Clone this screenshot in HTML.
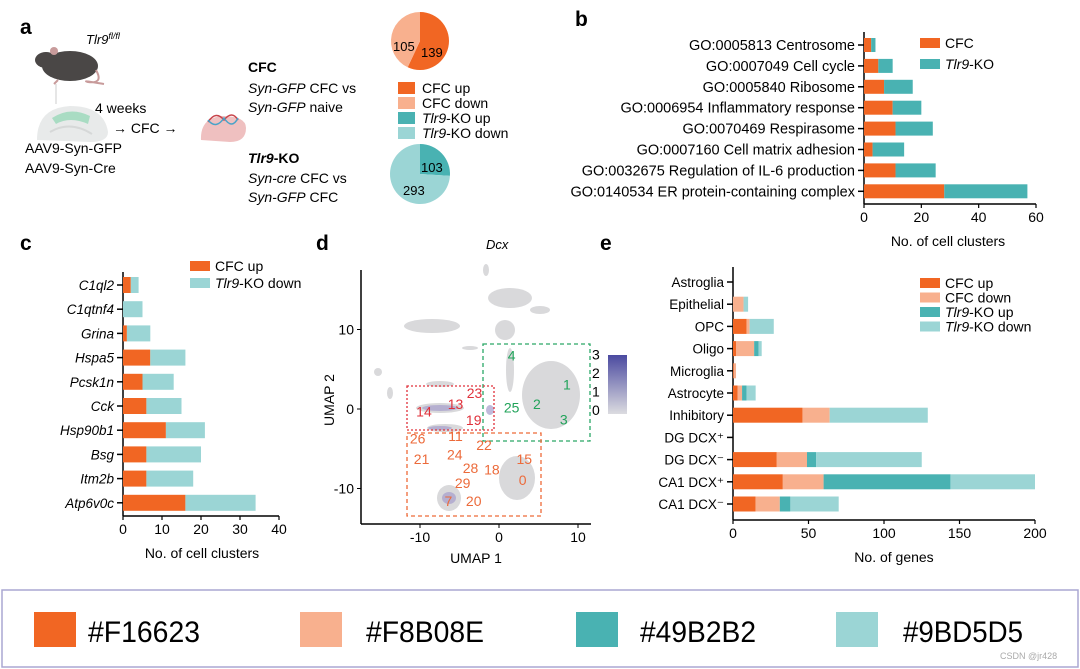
<!DOCTYPE html>
<html><head><meta charset="utf-8">
<style>
html,body{margin:0;padding:0;background:#fff;}
svg{display:block;font-family:"Liberation Sans",Arial,sans-serif;}
</style></head>
<body>
<svg id="fig" width="1080" height="669" viewBox="0 0 1080 669" xmlns="http://www.w3.org/2000/svg">
<g>
<text x="20" y="34" font-size="21" font-weight="bold">a</text>
<text x="86" y="44" font-size="13" font-style="italic">Tlr9<tspan font-size="9" dy="-5">fl/fl</tspan></text>
<g>
<ellipse cx="70" cy="66" rx="28" ry="15" fill="#4a4746"/>
<ellipse cx="46" cy="60" rx="11" ry="8" fill="#4a4746"/>
<ellipse cx="54" cy="51" rx="4" ry="4" fill="#c89b9b"/>
<path d="M96 70 Q104 84 88 82 Q80 80 104 84" stroke="#c89b9b" stroke-width="2" fill="none"/>
<line x1="58" y1="80" x2="54" y2="84" stroke="#c89b9b" stroke-width="2"/>
<line x1="56" y1="84" x2="56" y2="104" stroke="#ccc" stroke-width="1"/>
</g>
<g>
<path d="M37 140 Q37 108 70 106 Q104 106 108 132 Q108 142 90 142 Z" fill="#e8eaea"/>
<path d="M52 118 Q70 106 90 116 L88 124 Q70 116 56 124 Z" fill="#a9dcc3"/>
<path d="M50 132 Q70 120 92 134" stroke="#d6d8d8" stroke-width="2" fill="none"/>
</g>
<text x="95" y="113" font-size="14">4 weeks</text>
<text x="113" y="133" font-size="14">→ CFC →</text>
<g>
<path d="M201 140 Q200 118 222 116 Q246 116 246 128 Q246 142 230 142 Z" fill="#efc0c0"/>
<path d="M208 122 Q216 110 224 120 Q232 110 238 120" stroke="#c7434a" stroke-width="1.5" fill="none"/>
<path d="M208 120 Q216 130 224 118 Q232 130 238 118" stroke="#49a3c8" stroke-width="1.5" fill="none"/>
</g>
<text x="25" y="153" font-size="14">AAV9-Syn-GFP</text>
<text x="25" y="173" font-size="14">AAV9-Syn-Cre</text>
<text x="248" y="72" font-size="14" font-weight="bold">CFC</text>
<text x="248" y="93" font-size="14"><tspan font-style="italic">Syn-GFP</tspan> CFC vs</text>
<text x="248" y="112" font-size="14"><tspan font-style="italic">Syn-GFP</tspan> naive</text>
<text x="248" y="163" font-size="14" font-weight="bold"><tspan font-style="italic">Tlr9</tspan>-KO</text>
<text x="248" y="183" font-size="14"><tspan font-style="italic">Syn-cre</tspan> CFC vs</text>
<text x="248" y="202" font-size="14"><tspan font-style="italic">Syn-GFP</tspan> CFC</text>
<g id="pies"></g>
<g>
<rect x="398" y="82" width="17" height="12" fill="#F16623"/>
<text x="422" y="93" font-size="14">CFC up</text>
<rect x="398" y="97" width="17" height="12" fill="#F8B08E"/>
<text x="422" y="108" font-size="14">CFC down</text>
<rect x="398" y="112" width="17" height="12" fill="#49B2B2"/>
<text x="422" y="123" font-size="14"><tspan font-style="italic">Tlr9</tspan>-KO up</text>
<rect x="398" y="127" width="17" height="12" fill="#9BD5D5"/>
<text x="422" y="138" font-size="14"><tspan font-style="italic">Tlr9</tspan>-KO down</text>
</g>
</g>
<g id="panelB">
<text x="575" y="26" font-size="21" font-weight="bold">b</text>
</g>
<g id="panelC">
<text x="20" y="250" font-size="21" font-weight="bold">c</text>
</g>
<g id="panelD">
<text x="316" y="250" font-size="21" font-weight="bold">d</text>
<text x="486" y="249" font-size="13" font-style="italic">Dcx</text>
</g>
<g id="panelE">
<text x="600" y="250" font-size="21" font-weight="bold">e</text>
</g>
<g>
<rect x="2" y="590" width="1076" height="77" fill="#fff" stroke="#aaa7d2" stroke-width="1.5"/>
<rect x="34" y="612" width="42" height="35" fill="#F16623"/>
<text x="88" y="642" font-size="30" textLength="112" lengthAdjust="spacingAndGlyphs">#F16623</text>
<rect x="300" y="612" width="42" height="35" fill="#F8B08E"/>
<text x="366" y="642" font-size="30" textLength="118" lengthAdjust="spacingAndGlyphs">#F8B08E</text>
<rect x="576" y="612" width="42" height="35" fill="#49B2B2"/>
<text x="640" y="642" font-size="30" textLength="116" lengthAdjust="spacingAndGlyphs">#49B2B2</text>
<rect x="836" y="612" width="42" height="35" fill="#9BD5D5"/>
<text x="903" y="642" font-size="30" textLength="120" lengthAdjust="spacingAndGlyphs">#9BD5D5</text>
<text x="1000" y="659" font-size="9" fill="#aaa">CSDN @jr428</text>
</g>
</svg>
<script>
const pieCfcValues = [139, 105];
const pieKoValues = [103, 293];

const bCategories = ["GO:0005813 Centrosome","GO:0007049 Cell cycle","GO:0005840 Ribosome","GO:0006954 Inflammatory response","GO:0070469 Respirasome","GO:0007160 Cell matrix adhesion","GO:0032675 Regulation of IL-6 production","GO:0140534 ER protein-containing complex"];
const bCfc = [2.5, 5, 7, 10, 11, 3, 11, 28];
const bKo = [1.5, 5, 10, 10, 13, 11, 14, 29];
const bTicks = [0, 20, 40, 60];

const cCategories = ["C1ql2","C1qtnf4","Grina","Hspa5","Pcsk1n","Cck","Hsp90b1","Bsg","Itm2b","Atp6v0c"];
const cCfcUp = [2, 0, 1, 7, 5, 6, 11, 6, 6, 16];
const cKoDown = [2, 5, 6, 9, 8, 9, 10, 14, 12, 18];
const cTicks = [0, 10, 20, 30, 40];

const eCategories = ["Astroglia","Epithelial","OPC","Oligo","Microglia","Astrocyte","Inhibitory","DG DCX⁺","DG DCX⁻","CA1 DCX⁺","CA1 DCX⁻"];
const eCfcUp = [0, 0, 9, 2, 0.5, 3, 46, 0, 29, 33, 15];
const eCfcDown = [0, 7, 2, 12, 1.5, 3, 18, 0, 20, 27, 16];
const eKoUp = [0, 0, 0, 3, 0, 3, 0, 0, 6, 84, 7];
const eKoDown = [0, 3, 16, 2, 0, 6, 65, 0, 70, 56, 32];
const eTicks = [0, 50, 100, 150, 200];

const dTicksX = [-10, 0, 10];
const dTicksY = [-10, 0, 10];
const dGreenLabels = ["4","1","25","2","3"];
const dGreenX = [1.6, 8.6, 1.6, 4.8, 8.2];
const dGreenY = [6.7, 3.1, 0.2, 0.6, -1.3];
const dRedLabels = ["23","13","14","19"];
const dRedX = [-3.1, -5.5, -9.5, -3.2];
const dRedY = [2.0, 0.6, -0.3, -1.4];
const dOrangeLabels = ["26","11","22","21","24","28","18","15","0","29","7","20"];
const dOrangeX = [-10.3, -5.5, -1.9, -9.8, -5.6, -3.6, -0.9, 3.2, 3.0, -4.6, -6.4, -3.2];
const dOrangeY = [-3.7, -3.4, -4.5, -6.3, -5.7, -7.4, -7.6, -6.3, -8.9, -9.3, -11.6, -11.6];
const dColorTicks = [0, 1, 2, 3];

const C = {up:"#F16623", down:"#F8B08E", koUp:"#49B2B2", koDown:"#9BD5D5"};
const NS = "http://www.w3.org/2000/svg";
function mk(parent, tag, attrs, text){
  const el = document.createElementNS(NS, tag);
  for (const k in attrs) el.setAttribute(k, attrs[k]);
  if (text !== undefined) el.textContent = text;
  parent.appendChild(el);
  return el;
}

function drawPie(cx, cy, r, vals, cols, names){
  const g = document.getElementById("pies");
  const tot = vals.reduce((a,b)=>a+b,0);
  let a0 = 0;
  vals.forEach((v,i)=>{
    const a1 = a0 + v/tot*2*Math.PI;
    const x0 = cx + r*Math.sin(a0), y0 = cy - r*Math.cos(a0);
    const x1 = cx + r*Math.sin(a1), y1 = cy - r*Math.cos(a1);
    const large = (a1-a0) > Math.PI ? 1 : 0;
    const p = mk(g, "path", {d:`M${cx} ${cy} L${x0} ${y0} A${r} ${r} 0 ${large} 1 ${x1} ${y1} Z`, fill:cols[i]});
    
    
    a0 = a1;
  });
}
drawPie(420, 41, 29, pieCfcValues, [C.up, C.down], ["pie-cfc-up","pie-cfc-down"]);
drawPie(420, 174, 30, pieKoValues, [C.koUp, C.koDown], ["pie-ko-up","pie-ko-down"]);
{
  const g = document.getElementById("pies");
  const t1 = mk(g,"text",{x:393,y:51,"font-size":13},String(pieCfcValues[1]));
   
  const t2 = mk(g,"text",{x:421,y:57,"font-size":13},String(pieCfcValues[0]));
   
  const t3 = mk(g,"text",{x:421,y:172,"font-size":13},String(pieKoValues[0]));
   
  const t4 = mk(g,"text",{x:403,y:195,"font-size":13},String(pieKoValues[1]));
   
}

function stackedBars(g, opt){
  const xs = v => opt.x0 + v*opt.scale;
  const rowY = i => opt.yFirst + i*opt.step;
  mk(g,"line",{x1:opt.x0,y1:opt.axTop,x2:opt.x0,y2:opt.axBot,stroke:"#000","stroke-width":1.5});
  mk(g,"line",{x1:opt.x0,y1:opt.axBot,x2:xs(opt.ticks[opt.ticks.length-1]),y2:opt.axBot,stroke:"#000","stroke-width":1.5});
  opt.ticks.forEach(t=>{
    mk(g,"line",{x1:xs(t),y1:opt.axBot,x2:xs(t),y2:opt.axBot+4,stroke:"#000","stroke-width":1.2});
    const tl = mk(g,"text",{x:xs(t),y:opt.axBot+18,"font-size":14,"text-anchor":"middle"},String(t));
     
  });
  const xt = mk(g,"text",{x:opt.titleX,y:opt.axBot+42,"font-size":14,"text-anchor":"middle"},opt.title);
   
  opt.cats.forEach((c,i)=>{
    const y = rowY(i);
    mk(g,"line",{x1:opt.x0-6,y1:y,x2:opt.x0,y2:y,stroke:"#000","stroke-width":1.5});
    const lab = mk(g,"text",{x:opt.x0-9,y:y+5,"font-size":opt.fs,"text-anchor":"end","font-style":opt.italic?"italic":"normal"},c);
     
    let acc = 0;
    opt.series.forEach((s,k)=>{
      const v = s[i];
      if (v > 0){
        const r = mk(g,"rect",{x:xs(acc),y:y-opt.bh/2,width:v*opt.scale,height:opt.bh,fill:opt.colors[k]});
        
        
      }
      acc += v;
    });
  });
}

stackedBars(document.getElementById("panelB"), {
  x0:864, scale:172/60, yFirst:45, step:20.9, bh:14, axTop:32, axBot:204, fs:14.5,
  ticks:bTicks, cats:bCategories, series:[bCfc,bKo], colors:[C.up,C.koUp], snames:["cfc","tlr9-ko"],
  title:"No. of cell clusters", titleX:948, italic:false
});
stackedBars(document.getElementById("panelC"), {
  x0:123, scale:156/40, yFirst:285, step:24.2, bh:16, axTop:272, axBot:516, fs:13.5,
  ticks:cTicks, cats:cCategories, series:[cCfcUp,cKoDown], colors:[C.up,C.koDown], snames:["cfc-up","tlr9-ko-down"],
  title:"No. of cell clusters", titleX:202, italic:true
});
stackedBars(document.getElementById("panelE"), {
  x0:733, scale:302/200, yFirst:282, step:22.2, bh:15, axTop:267, axBot:520, fs:13.5,
  ticks:eTicks, cats:eCategories, series:[eCfcUp,eCfcDown,eKoUp,eKoDown], colors:[C.up,C.down,C.koUp,C.koDown], snames:["cfc-up","cfc-down","tlr9-ko-up","tlr9-ko-down"],
  title:"No. of genes", titleX:894, italic:false
});

function legend(g, x, y, step, items){
  items.forEach((it,i)=>{
    const r = mk(g,"rect",{x:x,y:y+i*step-5,width:20,height:10,fill:it[1]});
     
    const t = mk(g,"text",{x:x+25,y:y+i*step+5,"font-size":14});
     
    if (it[2]){ mk(t,"tspan",{"font-style":"italic"},"Tlr9"); mk(t,"tspan",{},it[0]); }
    else t.textContent = it[0];
  });
}
legend(document.getElementById("panelB"), 920, 43, 21, [["CFC",C.up,false],["-KO",C.koUp,true]]);
legend(document.getElementById("panelC"), 190, 266, 17, [["CFC up",C.up,false],["-KO down",C.koDown,true]]);
legend(document.getElementById("panelE"), 920, 283, 14.5, [["CFC up",C.up,false],["CFC down",C.down,false],["-KO up",C.koUp,true],["-KO down",C.koDown,true]]);

(function(){
  const g = document.getElementById("panelD");
  const ux = v => 499 + v*7.9;
  const uy = v => 409 - v*7.95;
  const blobs = [[551,395,29,34],[517,478,18,22],[432,326,28,7],[449,498,12,13],[510,298,22,10],[540,310,10,4],[486,270,3,6],[440,384,14,3],[505,330,10,10],[390,393,3,6],[378,372,4,4],[440,408,24,5],[445,428,18,4],[510,370,4,22],[470,348,8,2]];
  blobs.forEach(b=>{
    const e = mk(g,"ellipse",{cx:b[0],cy:b[1],rx:b[2],ry:b[3],fill:"#d9d9db"});
     
  });
  [[440,408,18,3],[449,498,7,6],[440,428,12,2],[490,410,4,5]].forEach(b=>{
    const e = mk(g,"ellipse",{cx:b[0],cy:b[1],rx:b[2],ry:b[3],fill:"#a59ccc",opacity:0.7});
     
  });
  mk(g,"line",{x1:361,y1:270,x2:361,y2:524,stroke:"#000","stroke-width":1.5});
  mk(g,"line",{x1:361,y1:524,x2:591,y2:524,stroke:"#000","stroke-width":1.5});
  dTicksX.forEach(t=>{
    mk(g,"line",{x1:ux(t),y1:524,x2:ux(t),y2:528,stroke:"#000"});
    const l = mk(g,"text",{x:ux(t),y:542,"font-size":14,"text-anchor":"middle"},String(t));
     
  });
  dTicksY.forEach(t=>{
    mk(g,"line",{x1:357,y1:uy(t),x2:361,y2:uy(t),stroke:"#000"});
    const l = mk(g,"text",{x:354,y:uy(t)+5,"font-size":14,"text-anchor":"end"},String(t));
     
  });
  const xl = mk(g,"text",{x:476,y:563,"font-size":14,"text-anchor":"middle"},"UMAP 1");
   
  const yl = mk(g,"text",{x:334,y:400,"font-size":14,"text-anchor":"middle",transform:"rotate(-90 334 400)"},"UMAP 2");
   
  const b1 = mk(g,"rect",{x:483,y:344,width:107,height:97,fill:"none",stroke:"#2aa866","stroke-width":1.3,"stroke-dasharray":"4 3"});
   
  const b2 = mk(g,"rect",{x:407,y:386,width:87,height:44,fill:"none",stroke:"#e0303a","stroke-width":1.3,"stroke-dasharray":"2 2"});
   
  const b3 = mk(g,"rect",{x:407,y:433,width:134,height:83,fill:"none",stroke:"#ee6a38","stroke-width":1.3,"stroke-dasharray":"4 3"});
   
  function labels(arr, xsA, ysA, col, nm){
    arr.forEach((s,i)=>{
      const t = mk(g,"text",{x:ux(xsA[i]),y:uy(ysA[i])+5,"font-size":14,"text-anchor":"middle",fill:col},s);
       
    });
  }
  labels(dGreenLabels,dGreenX,dGreenY,"#21a35a","cluster-label-green");
  labels(dRedLabels,dRedX,dRedY,"#e0303a","cluster-label-red");
  labels(dOrangeLabels,dOrangeX,dOrangeY,"#ec6a3a","cluster-label-orange");
  const defs = mk(g,"defs",{});
  const lg = mk(defs,"linearGradient",{id:"cb",x1:0,y1:1,x2:0,y2:0});
  mk(lg,"stop",{offset:"0","stop-color":"#dcdce0"});
  mk(lg,"stop",{offset:"1","stop-color":"#4b4aa0"});
  const cb = mk(g,"rect",{x:608,y:355,width:19,height:59,fill:"url(#cb)"});
   
  dColorTicks.forEach(t=>{
    const l = mk(g,"text",{x:592,y:414-t*18.5+1,"font-size":14},String(t));
     
  });
})();
</script>
</body></html>
